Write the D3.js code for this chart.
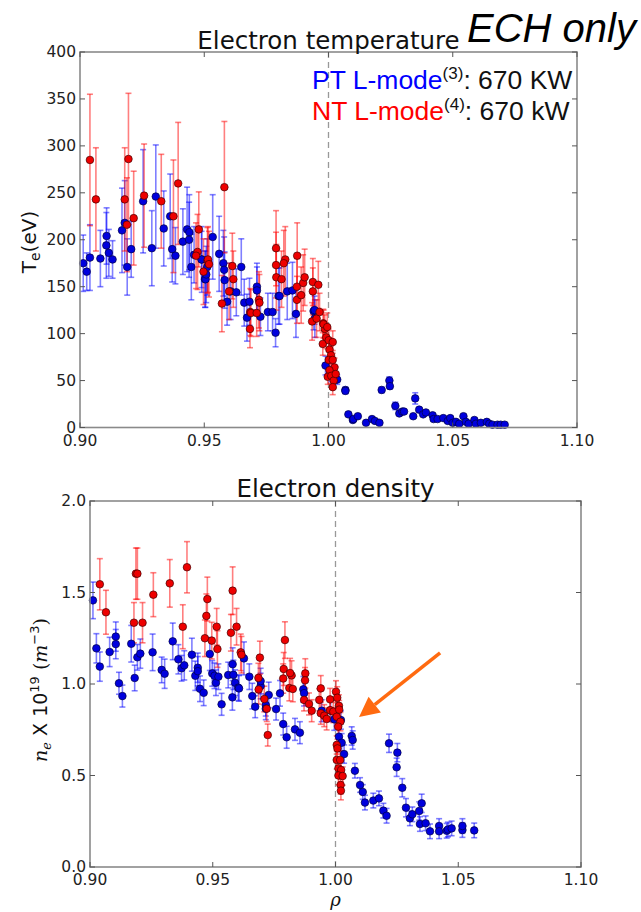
<!DOCTYPE html>
<html>
<head>
<meta charset="utf-8">
<script src="https://cdn.jsdelivr.net/npm/d3@7"></script>
<style>
  body { margin: 0; background: #fff; }
  svg { display: block; }
</style>
</head>
<body>
<div id="parentDiv"></div>
<script>
// DATA  [rho, value, error]
const ptTe = [[0.9013,175,30],[0.9027,166,20],[0.904,181,35],[0.9082,180,30],[0.9106,194,35],[0.9107,204,30],[0.9116,186,25],[0.9131,179,20],[0.9169,210,45],[0.918,218,45],[0.919,171,30],[0.9206,190,30],[0.9254,241,55],[0.9289,191,40],[0.9305,246,55],[0.9337,212,40],[0.9363,225,45],[0.9371,190,35],[0.9384,183,30],[0.9414,198,35],[0.9431,211,45],[0.944,208,40],[0.9439,200,40],[0.9459,184,30],[0.9448,171,35],[0.949,179,35],[0.9503,158,30],[0.9489,179,30],[0.9534,203,45],[0.956,185,40],[0.9577,175,35],[0.9505,158,30],[0.9508,163,30],[0.9512,171,30],[0.9582,157,30],[0.958,168,35],[0.9592,134,25],[0.9606,145,30],[0.9629,144,25],[0.9649,171,30],[0.9661,133,25],[0.9672,117,25],[0.9682,134,25],[0.9712,150,25],[0.9712,146,25],[0.9726,118,20],[0.9756,123,20],[0.9775,123,20],[0.9787,101,15],[0.9799,140,30],[0.9803,140,30],[0.9834,145,30],[0.9855,146,30],[0.9869,121,25],[0.994,124,20],[0.9945,116,20],[0.9944,125,15],[0.9988,66,10],[1.001,57,8],[1.0035,51,5],[1.0068,40,3],[1.0068,39,3],[1.008,14,2],[1.0098,8,2],[1.010,9,2],[1.0118,12,2],[1.0151,5,2],[1.0175,9,2],[1.0187,7,2],[1.0205,5,2],[1.0214,40,3],[1.0245,50,4],[1.0247,44,3],[1.0269,23,4],[1.0285,15,2],[1.0297,17,2],[1.0304,17,2],[1.0341,12,2],[1.0349,31,6],[1.0365,19,2],[1.0381,14,2],[1.0392,16,2],[1.0419,13,2],[1.0423,9,2],[1.0439,9,2],[1.0462,10,2],[1.048,7,2],[1.049,10,2],[1.05,5,2],[1.0513,6,2],[1.0526,4,2],[1.0543,12,2],[1.0553,6,2],[1.0564,4,2],[1.0587,8,2],[1.0593,4,2],[1.0613,5,2],[1.0637,6,2],[1.0647,4,2],[1.066,3,2],[1.068,3,2],[1.0693,3,2],[1.0709,3,2]];

const ntTe = [[0.904,285,70],[0.9064,243,55],[0.9195,286,70],[0.918,243,55],[0.9189,216,50],[0.9216,223,50],[0.9258,247,55],[0.9327,241,50],[0.9395,260,65],[0.9376,225,60],[0.9478,211,40],[0.9473,187,40],[0.9467,183,35],[0.9497,166,35],[0.9513,178,35],[0.9581,256,70],[0.9515,179,35],[0.9519,174,35],[0.9571,132,30],[0.9613,172,35],[0.9617,158,30],[0.96,145,30],[0.9685,123,25],[0.9688,122,25],[0.9711,122,25],[0.972,136,30],[0.9722,133,30],[0.9684,105,20],[0.9789,191,40],[0.9789,173,35],[0.979,160,35],[0.9826,179,35],[0.982,175,35],[0.9811,158,30],[0.9874,183,35],[0.9873,150,30],[0.9873,136,25],[0.989,141,30],[0.9898,154,30],[0.9904,160,30],[0.9937,155,25],[0.9937,145,25],[0.9959,152,25],[0.9934,113,20],[0.9952,116,20],[0.9964,123,20],[0.9979,111,15],[0.9985,105,15],[0.998,110,15],[0.9995,107,15],[0.9977,89,12],[0.9991,96,12],[1.0001,93,12],[1.0017,91,12],[1.0004,83,10],[1.001,77,10],[1.0001,72,10],[1.0017,72,10],[1.0024,64,10],[1.0004,61,8],[0.9997,54,8],[1.0011,55,8],[1.0021,50,8],[1.0017,43,8],[1.0029,57,8]];

const ptNe = [[0.9012,1.457,0.1],[0.9026,1.195,0.08],[0.904,1.095,0.08],[0.908,1.175,0.08],[0.9105,1.259,0.08],[0.9105,1.218,0.08],[0.9118,1.004,0.06],[0.9132,0.934,0.06],[0.9168,1.22,0.1],[0.9182,1.033,0.07],[0.9193,1.146,0.07],[0.9205,1.166,0.08],[0.9255,1.173,0.1],[0.9292,1.077,0.07],[0.9304,1.056,0.08],[0.9337,1.233,0.1],[0.936,1.135,0.08],[0.9373,1.086,0.07],[0.9384,1.102,0.08],[0.9415,1.16,0.09],[0.9429,1.045,0.08],[0.9439,1.089,0.08],[0.9439,1.07,0.08],[0.9448,0.974,0.07],[0.9463,0.952,0.07],[0.9488,1.164,0.09],[0.9498,1.058,0.07],[0.9507,1.045,0.07],[0.9513,1.007,0.07],[0.9523,1.04,0.07],[0.9536,0.889,0.06],[0.9563,1.049,0.07],[0.9581,1.108,0.09],[0.9584,1.05,0.08],[0.9591,1.007,0.07],[0.958,0.927,0.07],[0.9604,0.98,0.07],[0.9607,0.976,0.07],[0.9627,1.14,0.09],[0.9649,1.04,0.07],[0.9661,0.934,0.07],[0.9673,0.876,0.06],[0.9695,0.989,0.07],[0.9695,1.016,0.07],[0.9716,0.885,0.06],[0.9716,0.865,0.06],[0.9728,0.94,0.07],[0.9758,0.863,0.06],[0.9774,0.949,0.07],[0.9787,0.781,0.06],[0.9801,0.709,0.06],[0.9835,0.752,0.06],[0.9855,0.734,0.06],[0.9869,0.971,0.07],[0.9872,0.95,0.07],[0.9944,0.854,0.06],[0.998,0.854,0.06],[0.9995,0.807,0.06],[1.0022,0.803,0.05],[1.0014,0.712,0.05],[1.0025,0.679,0.05],[1.0035,0.617,0.05],[1.0066,0.716,0.05],[1.007,0.694,0.05],[1.0079,0.526,0.04],[1.01,0.448,0.04],[1.0111,0.41,0.04],[1.012,0.352,0.04],[1.0154,0.363,0.04],[1.0177,0.375,0.04],[1.0195,0.308,0.04],[1.0208,0.28,0.04],[1.0218,0.676,0.05],[1.0252,0.625,0.05],[1.0249,0.545,0.05],[1.0272,0.433,0.05],[1.0287,0.324,0.05],[1.0303,0.266,0.04],[1.0313,0.288,0.04],[1.0341,0.306,0.05],[1.0351,0.348,0.05],[1.0344,0.235,0.04],[1.0367,0.239,0.04],[1.0385,0.195,0.04],[1.0422,0.224,0.04],[1.0422,0.195,0.04],[1.0453,0.198,0.04],[1.0458,0.205,0.04],[1.0473,0.211,0.04],[1.0517,0.202,0.04],[1.0517,0.224,0.04],[1.0565,0.2,0.04]];

const ntNe = [[0.904,1.545,0.14],[0.9065,1.392,0.12],[0.9179,1.335,0.11],[0.9187,1.603,0.14],[0.9193,1.603,0.14],[0.9214,1.335,0.11],[0.9258,1.488,0.12],[0.9325,1.55,0.13],[0.9378,1.313,0.12],[0.9395,1.638,0.14],[0.9468,1.25,0.1],[0.9474,1.372,0.12],[0.9478,1.464,0.12],[0.9496,1.237,0.1],[0.9516,1.313,0.1],[0.9519,1.191,0.1],[0.9574,1.28,0.1],[0.9581,1.51,0.13],[0.9597,1.313,0.1],[0.9614,1.173,0.1],[0.9617,1.16,0.1],[0.9692,1.144,0.09],[0.9686,1.033,0.08],[0.9687,0.97,0.08],[0.971,0.918,0.07],[0.972,0.865,0.07],[0.9724,0.721,0.06],[0.9794,1.24,0.1],[0.9789,1.082,0.09],[0.9787,1.03,0.08],[0.9821,1.047,0.08],[0.9812,0.978,0.07],[0.9826,0.973,0.07],[0.9815,1.06,0.08],[0.9877,1.058,0.08],[0.9876,1.02,0.07],[0.9872,0.913,0.06],[0.9892,0.891,0.06],[0.9903,0.854,0.06],[0.994,0.976,0.07],[0.9934,0.913,0.06],[0.994,0.84,0.06],[0.9954,0.827,0.06],[0.9964,0.809,0.06],[0.9978,0.916,0.06],[0.9978,0.857,0.06],[0.9991,0.849,0.06],[1.0002,0.958,0.06],[1.0007,0.925,0.06],[1.0014,0.881,0.06],[1.0005,0.821,0.05],[1.0015,0.86,0.05],[1.002,0.794,0.05],[1.0011,0.767,0.05],[1.0005,0.667,0.05],[1.0005,0.585,0.05],[1.0019,0.585,0.05],[1.0008,0.648,0.05],[1.0012,0.539,0.05],[1.0023,0.53,0.05],[1.0012,0.5,0.05],[1.0029,0.497,0.05],[1.0021,0.448,0.05],[1.0022,0.417,0.05]];

const xTicks = [0.90, 0.95, 1.00, 1.05, 1.10];
const teTicks = [0, 50, 100, 150, 200, 250, 300, 350, 400];
const neTicks = [0.0, 0.5, 1.0, 1.5, 2.0];

const blue = "#0000ff";
const red = "#ff0000";
const frameColor = "#8a8a8a";

const width = 641, height = 912;
const svg = d3.select('#parentDiv').append('svg')
  .attr('width', width)
  .attr('height', height)
  .style('font-family', '"DejaVu Sans", sans-serif');

svg.append('rect').attr('width', width).attr('height', height).attr('fill', '#fff');

// draws one panel: frame, ticks, dashed line at rho=1, error bars and points
function drawPanel(box, yDomain, yTicks, yFmt, series) {
  const x = d3.scaleLinear().domain([0.9, 1.1]).range([box.x0, box.x1]);
  const y = d3.scaleLinear().domain(yDomain).range([box.y1, box.y0]);
  const g = svg.append('g');

  // dashed separatrix
  g.append('line')
    .attr('x1', x(1.0)).attr('x2', x(1.0))
    .attr('y1', box.y0).attr('y2', box.y1)
    .attr('stroke', '#999').attr('stroke-width', 1.3)
    .attr('stroke-dasharray', '6,4');

  series.forEach(s => {
    const eb = g.append('g').attr('stroke', s.color).attr('stroke-opacity', 0.5).attr('stroke-width', 1.6);
    s.data.forEach(d => {
      const cx = x(d[0]);
      const top = y(d[1] + d[2]), bot = y(Math.max(yDomain[0], d[1] - d[2]));
      eb.append('line').attr('x1', cx).attr('x2', cx).attr('y1', top).attr('y2', bot);
      eb.append('line').attr('x1', cx - 3).attr('x2', cx + 3).attr('y1', top).attr('y2', top);
      if (d[1] - d[2] > yDomain[0])
        eb.append('line').attr('x1', cx - 3).attr('x2', cx + 3).attr('y1', bot).attr('y2', bot);
    });
  });
  series.forEach(s => {
    g.append('g').selectAll('circle')
      .data(s.data)
      .join('circle')
      .attr('cx', d => x(d[0]))
      .attr('cy', d => y(d[1]))
      .attr('r', 3.8)
      .attr('fill', s.fill)
      .attr('stroke', s.edge)
      .attr('stroke-width', 0.7);
  });

  // frame
  g.append('rect')
    .attr('x', box.x0).attr('y', box.y0)
    .attr('width', box.x1 - box.x0).attr('height', box.y1 - box.y0)
    .attr('fill', 'none').attr('stroke', frameColor).attr('stroke-width', 1.6);

  // ticks inward on all sides
  const tk = g.append('g').attr('stroke', '#555').attr('stroke-width', 1);
  xTicks.forEach(t => {
    tk.append('line').attr('x1', x(t)).attr('x2', x(t)).attr('y1', box.y1).attr('y2', box.y1 - 5);
    tk.append('line').attr('x1', x(t)).attr('x2', x(t)).attr('y1', box.y0).attr('y2', box.y0 + 5);
    g.append('text').attr('x', x(t)).attr('y', box.y1 + 18)
      .attr('text-anchor', 'middle').attr('font-size', '15.5px').attr('fill', '#222')
      .text(d3.format('.2f')(t));
  });
  yTicks.forEach(t => {
    tk.append('line').attr('x1', box.x0).attr('x2', box.x0 + 5).attr('y1', y(t)).attr('y2', y(t));
    tk.append('line').attr('x1', box.x1).attr('x2', box.x1 - 5).attr('y1', y(t)).attr('y2', y(t));
    g.append('text').attr('x', box.x0 - 4).attr('y', y(t) + 5)
      .attr('text-anchor', 'end').attr('font-size', '15.5px').attr('fill', '#222')
      .text(yFmt(t));
  });
  return {x, y};
}

const topBox = {x0: 80, x1: 577, y0: 52, y1: 427.5};
const botBox = {x0: 90, x1: 581, y0: 501, y1: 867};

drawPanel(topBox, [0, 400], teTicks, d3.format('d'), [
  {data: ptTe, color: blue, fill: '#0000dd', edge: '#000044'},
  {data: ntTe, color: red, fill: '#ee0000', edge: '#440000'}
]);
const bot = drawPanel(botBox, [0, 2], neTicks, d3.format('.1f'), [
  {data: ptNe, color: blue, fill: '#0000dd', edge: '#000044'},
  {data: ntNe, color: red, fill: '#ee0000', edge: '#440000'}
]);

// TITLES
svg.append('text').attr('x', (topBox.x0 + topBox.x1) / 2).attr('y', 49)
  .attr('text-anchor', 'middle').attr('font-size', '24.5px').attr('fill', '#111')
  .text('Electron temperature');
svg.append('text').attr('x', (botBox.x0 + botBox.x1) / 2).attr('y', 497)
  .attr('text-anchor', 'middle').attr('font-size', '24.5px').attr('fill', '#111')
  .text('Electron density');

svg.append('text').attr('x', 467).attr('y', 42)
  .attr('font-family', '"Liberation Sans", Arial, sans-serif')
  .attr('font-style', 'italic').attr('font-size', '40px').attr('fill', '#000')
  .text('ECH only');

// LEGEND TEXT
const legend = [
  {label: 'PT L-mode', ref: '(3)', power: ': 670 KW', color: blue, y: 89},
  {label: 'NT L-mode', ref: '(4)', power: ': 670 kW', color: red, y: 120}
];
legend.forEach(l => {
  const t = svg.append('text').attr('x', 312).attr('y', l.y)
    .attr('font-family', '"Liberation Sans", Arial, sans-serif')
    .attr('font-size', '26.5px');
  t.append('tspan').attr('fill', l.color).text(l.label);
  t.append('tspan').attr('fill', '#111').attr('font-size', '17px').attr('dy', -10).text(l.ref);
  t.append('tspan').attr('fill', '#111').attr('dy', 10).text(l.power);
});

// AXIS LABELS
const teLabel = svg.append('text')
  .attr('transform', 'translate(36,242) rotate(-90)')
  .attr('text-anchor', 'middle').attr('font-size', '20px').attr('fill', '#111');
teLabel.append('tspan').text('T');
teLabel.append('tspan').attr('font-size', '14px').attr('dy', 4).text('e');
teLabel.append('tspan').attr('dy', -4).text('(eV)');

const neLabel = svg.append('text')
  .attr('transform', 'translate(47,690) rotate(-90)')
  .attr('text-anchor', 'middle').attr('font-size', '19px').attr('fill', '#111');
neLabel.append('tspan').attr('font-family', '"DejaVu Serif", serif').attr('font-style', 'italic').text('n');
neLabel.append('tspan').attr('font-family', '"DejaVu Serif", serif').attr('font-style', 'italic')
  .attr('font-size', '13px').attr('dy', 4).text('e');
neLabel.append('tspan').attr('dy', -4).text(' X 10');
neLabel.append('tspan').attr('font-size', '13px').attr('dy', -8).text('19');
neLabel.append('tspan').attr('dy', 8).attr('font-family', '"DejaVu Serif", serif').text(' (');
neLabel.append('tspan').attr('font-family', '"DejaVu Serif", serif').attr('font-style', 'italic').text('m');
neLabel.append('tspan').attr('font-size', '13px').attr('dy', -8).text('−3');
neLabel.append('tspan').attr('dy', 8).attr('font-family', '"DejaVu Serif", serif').text(')');

svg.append('text').attr('x', bot.x(1.0)).attr('y', 906)
  .attr('text-anchor', 'middle').attr('font-family', '"DejaVu Serif", serif')
  .attr('font-style', 'italic').attr('font-size', '18px').attr('fill', '#111')
  .text('ρ');

// ORANGE ARROW
const arrowColor = '#ff6a10';
const ax1 = bot.x(1.0426), ay1 = bot.y(1.17);
const ax2 = bot.x(1.0096), ay2 = bot.y(0.82);
const ang = Math.atan2(ay2 - ay1, ax2 - ax1);
const headLen = 20, headW = 10;
const bx = ax2 - headLen * Math.cos(ang), by = ay2 - headLen * Math.sin(ang);
svg.append('line')
  .attr('x1', ax1).attr('y1', ay1).attr('x2', bx).attr('y2', by)
  .attr('stroke', arrowColor).attr('stroke-width', 3.5);
svg.append('path')
  .attr('d', `M${ax2},${ay2} L${bx + headW * Math.sin(ang)},${by - headW * Math.cos(ang)} L${bx - headW * Math.sin(ang)},${by + headW * Math.cos(ang)} Z`)
  .attr('fill', arrowColor);
</script>
</body>
</html>
